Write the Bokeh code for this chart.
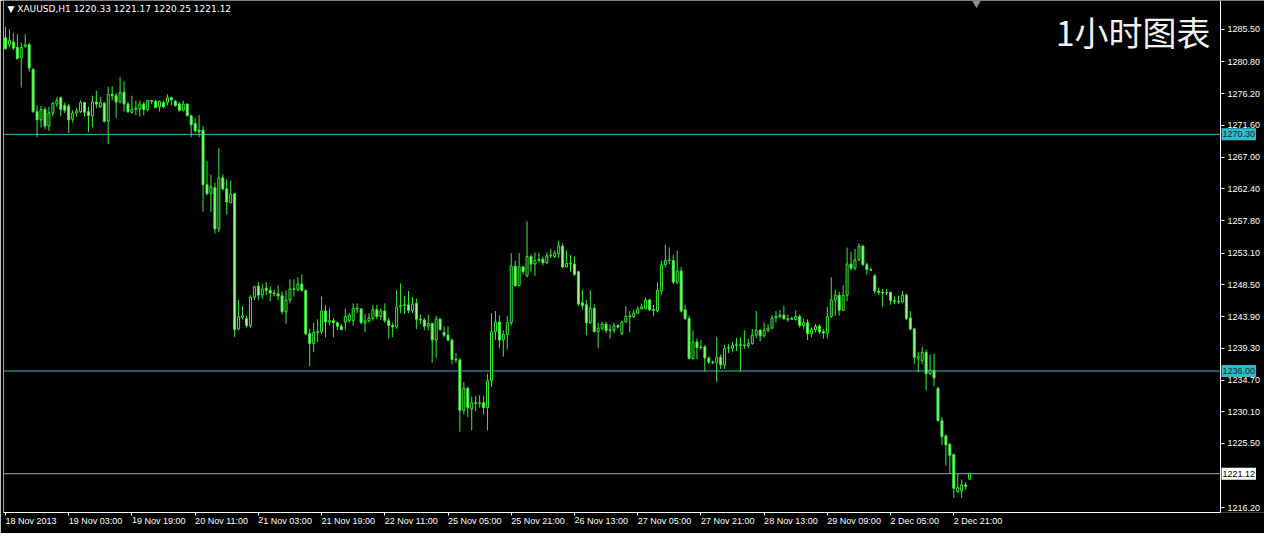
from bokeh.plotting import figure
from bokeh.models import Range1d, FixedTicker, Span, Label, PrintfTickFormatter, ColumnDataSource
from bokeh.embed import file_html
from bokeh.resources import INLINE

symbol = "XAUUSD,H1"
title_text = "1小时图表"

opens = [
    1284.3, 1283.3, 1283.7, 1282.9, 1281.4, 1283.0, 1283.3, 1279.7, 1273.6, 1272.4,
    1273.9, 1271.5, 1273.4, 1274.7, 1275.6, 1274.5, 1274.4, 1272.5, 1273.4, 1273.6,
    1274.9, 1273.6, 1273.0, 1275.0, 1274.3, 1274.8, 1272.2, 1276.1, 1275.9, 1275.0,
    1276.4, 1274.7, 1273.5, 1273.9, 1274.0, 1274.7, 1273.9, 1275.2, 1275.1, 1274.3,
    1274.9, 1274.9, 1275.6, 1275.1, 1274.7, 1273.8, 1274.7, 1273.0, 1271.9, 1270.9,
    1270.9, 1263.0, 1261.7, 1262.6, 1256.6, 1264.0, 1262.4, 1260.4, 1261.7, 1242.1,
    1243.8, 1243.6, 1242.6, 1246.7, 1248.3, 1247.0, 1248.0, 1247.7, 1247.3, 1247.2,
    1246.9, 1244.6, 1246.3, 1247.9, 1247.8, 1248.6, 1247.7, 1241.4, 1240.0, 1241.6,
    1241.7, 1244.7, 1243.1, 1243.3, 1243.0, 1242.5, 1243.1, 1243.3, 1243.3, 1245.1,
    1245.0, 1243.0, 1243.3, 1243.6, 1244.9, 1243.9, 1244.7, 1243.3, 1242.6, 1242.4,
    1245.3, 1245.5, 1245.6, 1244.8, 1245.8, 1243.5, 1243.4, 1242.5, 1242.9, 1240.5,
    1243.5, 1241.6, 1241.2, 1240.5, 1237.7, 1237.6, 1230.3, 1233.5, 1230.5, 1231.4,
    1231.3, 1231.4, 1230.7, 1234.6, 1241.7, 1243.1, 1240.5, 1241.3, 1243.0, 1251.2,
    1248.4, 1251.1, 1249.8, 1252.6, 1251.5, 1252.0, 1252.2, 1251.7, 1252.7, 1252.6,
    1253.0, 1254.1, 1251.1, 1251.6, 1251.5, 1250.4, 1245.9, 1245.6, 1243.0, 1245.1,
    1241.7, 1242.2, 1242.8, 1241.9, 1241.9, 1242.6, 1241.4, 1243.1, 1243.9, 1243.9,
    1244.4, 1245.0, 1245.1, 1246.3, 1244.9, 1244.7, 1247.6, 1251.4, 1252.0, 1252.0,
    1248.9, 1250.5, 1244.9, 1243.6, 1237.8, 1240.2, 1239.4, 1239.5, 1237.9, 1237.3,
    1237.2, 1238.0, 1236.9, 1239.3, 1239.3, 1239.7, 1239.8, 1239.7, 1239.7, 1240.0,
    1241.2, 1241.9, 1241.1, 1241.9, 1242.2, 1243.7, 1243.9, 1244.1, 1243.6, 1243.5,
    1243.5, 1243.9, 1242.6, 1243.0, 1241.4, 1242.0, 1242.5, 1241.7, 1241.5, 1243.9,
    1246.3, 1247.0, 1244.8, 1247.0, 1251.5, 1250.9, 1252.1, 1254.1, 1251.4, 1250.7,
    1249.8, 1247.6, 1247.4, 1247.3, 1247.4, 1246.2, 1246.1, 1246.0, 1247.0, 1243.7,
    1242.1, 1237.8, 1237.5, 1238.7, 1235.6, 1236.1, 1233.5, 1228.8, 1226.6, 1225.4,
    1223.9, 1218.5, 1218.6, 1219.5, 1220.33,
]
highs = [
    1285.9, 1285.5, 1285.0, 1284.8, 1283.6, 1284.8, 1283.6, 1279.9, 1274.5, 1274.4,
    1274.3, 1274.3, 1275.0, 1275.7, 1275.8, 1274.9, 1274.7, 1273.8, 1274.1, 1275.2,
    1275.0, 1274.3, 1275.9, 1276.6, 1275.7, 1275.0, 1277.2, 1277.3, 1276.3, 1278.6,
    1278.0, 1275.0, 1275.9, 1275.2, 1275.2, 1275.0, 1275.3, 1275.3, 1275.3, 1275.2,
    1275.2, 1276.1, 1275.7, 1275.3, 1275.0, 1275.2, 1274.8, 1273.1, 1272.7, 1273.1,
    1271.5, 1266.4, 1264.5, 1263.3, 1268.3, 1264.5, 1263.8, 1263.6, 1261.8, 1246.3,
    1245.4, 1244.0, 1247.0, 1248.4, 1248.9, 1248.6, 1248.9, 1248.3, 1247.8, 1248.4,
    1247.5, 1247.7, 1249.3, 1249.3, 1249.6, 1250.0, 1247.8, 1242.1, 1243.0, 1243.5,
    1246.8, 1245.6, 1245.1, 1243.7, 1243.2, 1242.8, 1245.0, 1244.4, 1245.8, 1245.8,
    1245.1, 1244.3, 1244.4, 1245.6, 1245.6, 1245.1, 1245.8, 1243.7, 1243.0, 1247.7,
    1248.7, 1246.9, 1247.6, 1246.7, 1246.5, 1244.2, 1243.7, 1244.2, 1243.0, 1244.0,
    1243.7, 1242.5, 1242.5, 1240.7, 1238.6, 1237.9, 1234.4, 1233.7, 1232.3, 1232.4,
    1232.5, 1232.4, 1235.6, 1244.4, 1244.7, 1244.1, 1241.9, 1244.0, 1253.1, 1252.0,
    1253.1, 1251.2, 1257.7, 1252.9, 1253.2, 1253.1, 1252.6, 1253.2, 1253.7, 1253.5,
    1254.9, 1254.5, 1253.5, 1252.8, 1252.6, 1250.5, 1247.8, 1246.3, 1247.7, 1245.7,
    1243.0, 1243.1, 1243.1, 1242.8, 1243.0, 1242.8, 1243.3, 1245.4, 1244.7, 1244.9,
    1245.4, 1245.8, 1246.7, 1246.5, 1245.6, 1248.9, 1252.0, 1254.3, 1253.9, 1252.8,
    1253.5, 1251.1, 1245.6, 1244.0, 1241.9, 1240.7, 1240.5, 1239.8, 1238.1, 1237.5,
    1240.9, 1238.4, 1239.8, 1239.9, 1240.2, 1240.8, 1240.9, 1241.9, 1240.7, 1242.1,
    1244.7, 1242.1, 1243.0, 1242.8, 1244.1, 1244.7, 1244.9, 1245.5, 1244.2, 1243.9,
    1244.8, 1244.2, 1243.6, 1243.5, 1242.3, 1242.8, 1242.8, 1242.1, 1245.3, 1249.6,
    1247.8, 1247.5, 1248.4, 1253.9, 1253.3, 1253.7, 1254.5, 1254.3, 1251.7, 1251.0,
    1250.1, 1248.1, 1247.9, 1247.9, 1247.5, 1246.8, 1246.9, 1247.6, 1247.2, 1244.7,
    1242.3, 1238.8, 1239.5, 1239.1, 1238.4, 1238.5, 1233.7, 1229.3, 1226.8, 1225.5,
    1224.0, 1221.2, 1220.3, 1219.9, 1221.17,
]
lows = [
    1282.6, 1282.9, 1282.5, 1281.1, 1277.1, 1282.9, 1279.4, 1273.4, 1269.9, 1271.3,
    1271.0, 1270.8, 1272.9, 1274.3, 1272.9, 1273.4, 1270.5, 1272.0, 1272.9, 1273.4,
    1272.9, 1270.6, 1271.3, 1274.1, 1274.1, 1272.0, 1268.9, 1275.2, 1272.7, 1274.8,
    1273.6, 1273.4, 1273.3, 1273.1, 1272.9, 1273.1, 1273.6, 1274.7, 1274.1, 1273.6,
    1274.1, 1274.5, 1274.5, 1274.3, 1273.6, 1273.6, 1272.9, 1269.9, 1270.6, 1269.9,
    1259.1, 1261.5, 1259.1, 1255.9, 1256.1, 1262.2, 1258.7, 1260.3, 1240.9, 1241.9,
    1243.5, 1242.3, 1242.3, 1246.3, 1246.3, 1246.5, 1247.0, 1246.1, 1246.8, 1246.3,
    1244.2, 1242.8, 1245.8, 1246.8, 1247.5, 1247.5, 1241.2, 1236.7, 1238.8, 1240.2,
    1241.4, 1240.9, 1242.6, 1240.9, 1241.9, 1241.9, 1242.0, 1243.0, 1242.6, 1244.4,
    1242.8, 1241.6, 1243.0, 1243.3, 1243.5, 1243.4, 1243.0, 1240.7, 1240.9, 1242.1,
    1244.4, 1244.3, 1244.4, 1244.4, 1242.1, 1242.8, 1241.9, 1241.9, 1237.2, 1237.9,
    1241.9, 1240.9, 1240.3, 1237.0, 1237.2, 1227.2, 1229.7, 1229.3, 1227.4, 1230.2,
    1230.7, 1229.7, 1227.4, 1233.7, 1240.5, 1239.3, 1238.1, 1239.1, 1242.6, 1248.2,
    1248.3, 1250.0, 1249.6, 1250.4, 1249.8, 1251.7, 1251.3, 1251.5, 1252.4, 1252.4,
    1252.4, 1250.9, 1251.0, 1250.4, 1249.8, 1245.4, 1244.9, 1241.2, 1242.8, 1241.6,
    1239.3, 1241.9, 1241.5, 1240.7, 1241.5, 1242.2, 1241.2, 1243.0, 1241.6, 1243.7,
    1244.2, 1244.9, 1244.9, 1244.7, 1244.0, 1244.5, 1247.0, 1251.0, 1251.5, 1248.6,
    1248.6, 1244.5, 1243.4, 1237.7, 1237.7, 1237.7, 1239.1, 1235.9, 1237.0, 1237.0,
    1234.4, 1236.3, 1236.3, 1238.6, 1238.8, 1238.9, 1236.0, 1239.2, 1239.3, 1239.8,
    1240.8, 1240.3, 1240.9, 1241.6, 1242.1, 1243.0, 1243.6, 1243.4, 1243.1, 1243.4,
    1243.3, 1242.3, 1242.1, 1240.5, 1240.9, 1241.6, 1241.4, 1240.7, 1240.7, 1243.7,
    1244.0, 1244.0, 1244.7, 1246.1, 1250.6, 1250.6, 1252.0, 1251.3, 1250.0, 1250.6,
    1247.2, 1247.0, 1245.3, 1247.0, 1245.6, 1245.7, 1245.7, 1245.9, 1243.4, 1241.9,
    1237.0, 1235.8, 1237.0, 1233.2, 1235.5, 1233.8, 1228.7, 1225.3, 1222.3, 1221.1,
    1217.6, 1218.4, 1217.6, 1218.8, 1220.25,
]
closes = [
    1282.7, 1283.9, 1282.8, 1281.3, 1282.9, 1283.3, 1279.9, 1273.6, 1272.4, 1273.9,
    1271.5, 1273.4, 1274.8, 1275.2, 1273.9, 1273.8, 1272.4, 1273.4, 1273.7, 1274.9,
    1273.5, 1273.0, 1275.0, 1274.7, 1274.9, 1272.2, 1276.1, 1275.9, 1275.0, 1276.4,
    1274.7, 1273.6, 1273.9, 1274.1, 1274.7, 1273.9, 1275.2, 1275.1, 1274.2, 1275.1,
    1274.3, 1275.6, 1275.3, 1274.5, 1273.8, 1274.7, 1273.0, 1271.7, 1270.8, 1270.7,
    1263.0, 1261.7, 1262.7, 1256.6, 1264.0, 1262.4, 1260.5, 1261.6, 1242.0, 1243.9,
    1244.0, 1242.6, 1246.7, 1248.2, 1247.0, 1247.9, 1247.7, 1247.3, 1247.2, 1246.9,
    1244.6, 1246.3, 1247.9, 1247.8, 1248.6, 1247.7, 1241.4, 1240.0, 1241.6, 1241.7,
    1244.7, 1243.1, 1243.3, 1243.0, 1242.5, 1242.0, 1243.9, 1244.1, 1245.1, 1245.0,
    1243.0, 1243.3, 1243.7, 1244.9, 1243.9, 1244.7, 1243.3, 1242.6, 1242.4, 1245.3,
    1245.5, 1245.6, 1244.8, 1245.7, 1243.5, 1243.4, 1242.5, 1242.9, 1240.5, 1243.5,
    1242.0, 1241.2, 1240.5, 1237.7, 1237.6, 1230.3, 1233.5, 1230.7, 1231.4, 1231.3,
    1231.4, 1230.7, 1234.6, 1241.7, 1243.1, 1240.5, 1241.3, 1243.0, 1251.2, 1248.4,
    1251.1, 1250.4, 1252.6, 1251.5, 1252.0, 1252.2, 1251.7, 1252.7, 1252.8, 1253.1,
    1254.1, 1251.1, 1251.6, 1251.5, 1250.0, 1245.7, 1245.5, 1243.0, 1245.1, 1241.7,
    1242.2, 1242.8, 1241.9, 1242.0, 1242.6, 1242.4, 1243.1, 1243.9, 1244.0, 1244.4,
    1245.0, 1245.3, 1246.3, 1244.9, 1244.8, 1247.7, 1251.4, 1252.0, 1252.1, 1248.9,
    1250.5, 1244.7, 1243.6, 1237.8, 1240.2, 1239.4, 1239.5, 1237.9, 1237.3, 1237.2,
    1238.0, 1236.9, 1239.3, 1239.4, 1239.7, 1239.8, 1239.7, 1239.8, 1240.0, 1241.2,
    1241.9, 1241.1, 1241.9, 1242.2, 1243.7, 1243.9, 1244.1, 1243.6, 1243.5, 1243.6,
    1243.9, 1242.6, 1243.0, 1241.4, 1242.0, 1242.5, 1241.7, 1241.5, 1243.9, 1246.3,
    1247.0, 1244.8, 1247.0, 1251.5, 1250.9, 1252.1, 1254.1, 1251.4, 1250.7, 1250.6,
    1247.6, 1247.4, 1247.3, 1247.4, 1246.2, 1246.1, 1246.0, 1247.0, 1243.6, 1242.1,
    1238.0, 1238.1, 1238.7, 1235.6, 1236.1, 1235.0, 1228.8, 1226.5, 1225.3, 1223.8,
    1219.0, 1219.1, 1219.5, 1219.3, 1221.12,
]

x_tick_bars = [0, 16, 32, 48, 64, 80, 96, 112, 128, 144, 160, 176, 192, 208, 224, 240]
x_tick_labels = [
    "18 Nov 2013", "19 Nov 03:00", "19 Nov 19:00", "20 Nov 11:00", "21 Nov 03:00",
    "21 Nov 19:00", "22 Nov 11:00", "25 Nov 05:00", "25 Nov 21:00", "26 Nov 13:00",
    "27 Nov 05:00", "27 Nov 21:00", "28 Nov 13:00", "29 Nov 09:00", "2 Dec 05:00",
    "2 Dec 21:00",
]
y_tick_values = [1285.50, 1280.80, 1276.20, 1271.60, 1267.00, 1262.40, 1257.80, 1253.10,
                 1248.50, 1243.90, 1239.30, 1234.70, 1230.10, 1225.50, 1216.20]
levels = [1270.30, 1236.00]

# layout (pixels)
W, H = 1264, 533
BORDER_LEFT = 3
PRICE_PANEL = 44
X_START, X_AXIS = -0.5, 307.5
bars_per_px = (X_AXIS - X_START) / (W - BORDER_LEFT - PRICE_PANEL)
X_END = X_AXIS + PRICE_PANEL * bars_per_px
Y_MIN, Y_MAX = 1215.5, 1289.7

LIME = "#33f033"
BEAR_FILL = "#b0f5a0"
TEAL = "#2fbcc8"
GRAY = "#a8a8a8"
FONT = "Liberation Sans"

n = len(closes)
xs = list(range(n))
tops = [max(o, c) for o, c in zip(opens, closes)]
bottoms = [min(o, c) for o, c in zip(opens, closes)]
fills = ["black" if c >= o else BEAR_FILL for o, c in zip(opens, closes)]
src = ColumnDataSource(dict(x=xs, high=highs, low=lows, top=tops, bottom=bottoms, fill=fills))

p = figure(width=W, height=H, x_range=Range1d(X_START, X_END), y_range=Range1d(Y_MIN, Y_MAX),
           output_backend="svg", toolbar_location=None, y_axis_location="right",
           background_fill_color="black", border_fill_color="black", outline_line_color=None,
           min_border_left=BORDER_LEFT, min_border_right=0, min_border_top=0, min_border_bottom=0)
p.xgrid.visible = False
p.ygrid.visible = False

# x axis (time)
xa = p.xaxis[0]
xa.ticker = FixedTicker(ticks=x_tick_bars)
xa.major_label_overrides = {b: lab for b, lab in zip(x_tick_bars, x_tick_labels)}
xa.bounds = (X_START, X_AXIS)
xa.axis_line_color = "white"
xa.major_tick_line_color = "white"
xa.minor_tick_line_color = None
xa.major_tick_in = 0
xa.major_tick_out = 3
xa.major_label_text_color = "white"
xa.major_label_text_font = FONT
xa.major_label_text_font_size = "9px"
xa.major_label_orientation = -0.0001
xa.major_label_standoff = 5

# y axis (price), drawn at the right edge of the chart area
ya = p.yaxis[0]
ya.fixed_location = X_AXIS
ya.ticker = FixedTicker(ticks=y_tick_values)
ya.formatter = PrintfTickFormatter(format="%.2f")
ya.axis_line_color = "white"
ya.major_tick_line_color = "white"
ya.minor_tick_line_color = None
ya.major_tick_in = 0
ya.major_tick_out = 4
ya.major_label_text_color = "white"
ya.major_label_text_font = FONT
ya.major_label_text_font_size = "9px"
ya.major_label_standoff = 3

# left border
p.add_layout(Span(location=X_START, dimension="height", line_color="white", line_width=1))

# horizontal level lines and the current price line
last = closes[-1]
p.segment(x0=[X_START] * len(levels), y0=levels, x1=[X_AXIS] * len(levels), y1=levels,
          line_color=TEAL, line_width=1)
p.segment(x0=[X_START], y0=[last], x1=[X_AXIS], y1=[last], line_color=GRAY, line_width=1)

# candles
p.segment(x0="x", y0="low", x1="x", y1="high", source=src, line_color=LIME, line_width=1)
p.vbar(x="x", width=0.5, top="top", bottom="bottom", source=src,
       fill_color="fill", line_color=LIME, line_width=1)

# chart-shift marker at the top edge
p.scatter(x=[n + 0.75], y=[Y_MAX], marker="inverted_triangle", size=12,
          fill_color="#8c8c8c", line_color="#8c8c8c")

# price tags on the price scale
for lv in levels:
    p.add_layout(Label(x=X_AXIS, y=lv, x_offset=1, text=f"{lv:.2f}", text_align="left",
                       text_baseline="middle", text_font=FONT, text_font_size="9px",
                       text_color="#0a2830", background_fill_color=TEAL, padding=(1, 3)))
p.add_layout(Label(x=X_AXIS, y=last, x_offset=1, text=f"{last:.2f}", text_align="left",
                   text_baseline="middle", text_font=FONT, text_font_size="9px",
                   text_color="black", background_fill_color="white", padding=(1, 3)))

# header
header = f"\u25bc {symbol}  {opens[-1]:.2f} {highs[-1]:.2f} {lows[-1]:.2f} {closes[-1]:.2f}"
p.add_layout(Label(x=X_START, y=Y_MAX, x_offset=4, y_offset=-3, text=header,
                   text_align="left", text_baseline="top", text_font="DejaVu Sans",
                   text_font_size="9px", text_color="white"))
# title
p.add_layout(Label(x=X_AXIS, y=Y_MAX, x_offset=-10, y_offset=-6, text=title_text,
                   text_align="right", text_baseline="top", text_font="Noto Sans CJK SC",
                   text_font_size="34px", text_color="#f2f2f2"))

open("out.html", "w").write(file_html(p, INLINE))
